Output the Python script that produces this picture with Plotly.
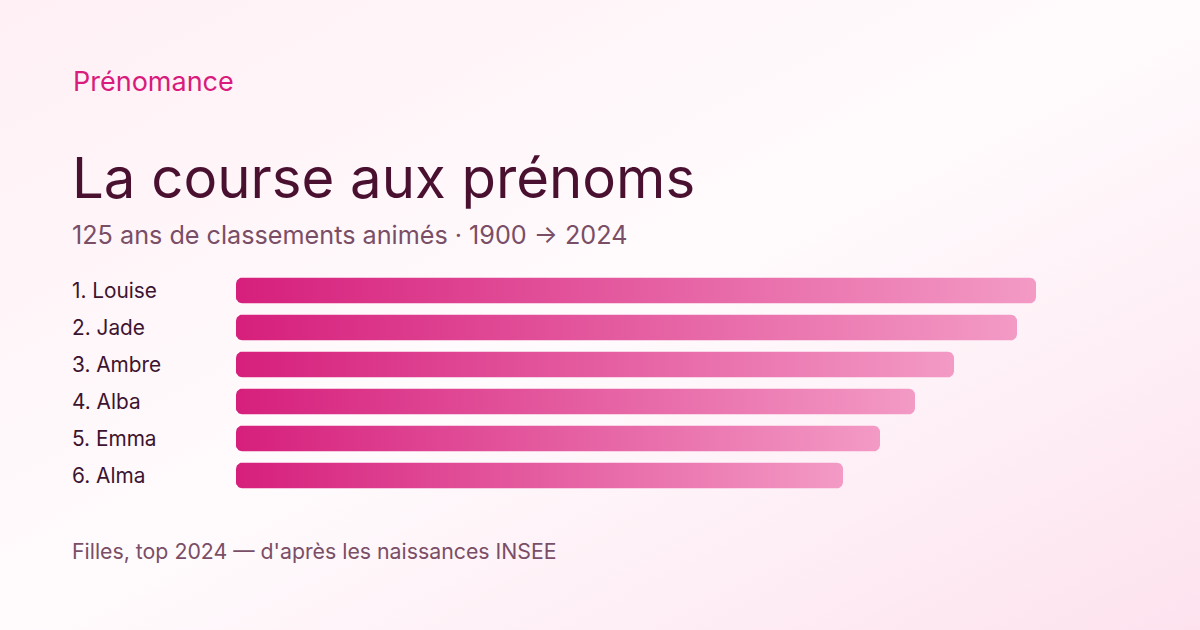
import base64
import numpy as np
import plotly.graph_objects as go

# ---- data ----
names = ["Louise", "Jade", "Ambre", "Alba", "Emma", "Alma"]
ranks = [1, 2, 3, 4, 5, 6]
births = [3200, 3124, 2872, 2716, 2576, 2428]

brand = "Prénomance"
title = "La course aux prénoms"
subtitle = "125 ans de classements animés · 1900 → 2024"
footer = "Filles, top 2024 — d'après les naissances INSEE"

W, H = 1200, 630
FONT = "Inter, Roboto, sans-serif"

# ---- layout geometry (pixels) ----
x_left_px, x_right_px = 236, 1100
x_max = max(births) * (x_right_px - x_left_px) / (1036 - x_left_px)
slot_top, slot = 272, 37
y_top_px = slot_top
y_bot_px = slot_top + slot * len(names)
half_h = 12.75 / slot
r_px = 6
rx = r_px * x_max / (x_right_px - x_left_px)
ry = r_px / slot


def rounded_rect(x0, x1, yc):
    y0, y1 = yc - half_h, yc + half_h
    pts_x, pts_y = [], []
    corners = [
        (x1 - rx, y0 + ry, -np.pi / 2, 0),
        (x1 - rx, y1 - ry, 0, np.pi / 2),
        (x0 + rx, y1 - ry, np.pi / 2, np.pi),
        (x0 + rx, y0 + ry, np.pi, 1.5 * np.pi),
    ]
    for cx, cy, a0, a1 in corners:
        t = np.linspace(a0, a1, 10)
        pts_x.extend(cx + rx * np.cos(t))
        pts_y.extend(cy + ry * np.sin(t))
    pts_x.append(pts_x[0])
    pts_y.append(pts_y[0])
    return pts_x, pts_y


fig = go.Figure()
for i, (n, v) in enumerate(zip(names, births)):
    px_, py_ = rounded_rect(0, v, i)
    fig.add_trace(go.Scatter(
        x=px_, y=py_, mode="lines", fill="toself",
        line=dict(width=0, color="rgba(0,0,0,0)"),
        fillgradient=dict(type="horizontal",
                          colorscale=[[0, "#d61f7c"], [1, "#f39ac5"]]),
        hoveron="fills", name=n, text=f"{n}: {v}", hoverinfo="text",
        showlegend=False,
    ))

annotations = []


def py2paper(py):
    return 1 - py / H


annotations.append(dict(text=brand, x=71 / W, y=py2paper(82), xref="paper", yref="paper",
                        xanchor="left", yanchor="middle", showarrow=False,
                        font=dict(family=FONT, size=27, color="#d81b7c")))
annotations.append(dict(text=title, x=70 / W, y=py2paper(177), xref="paper", yref="paper",
                        xanchor="left", yanchor="middle", showarrow=False,
                        font=dict(family=FONT, size=56.3, color="#4a1030")))
annotations.append(dict(text=subtitle, x=70 / W, y=py2paper(235), xref="paper", yref="paper",
                        xanchor="left", yanchor="middle", showarrow=False,
                        font=dict(family=FONT, size=25.2, color="#7a4e66")))
annotations.append(dict(text=footer, x=70 / W, y=py2paper(551), xref="paper", yref="paper",
                        xanchor="left", yanchor="middle", showarrow=False,
                        font=dict(family=FONT, size=21.3, color="#7a4e66")))
for i, (r, n) in enumerate(zip(ranks, names)):
    annotations.append(dict(text=f"{r}. {n}", x=70 / W, y=i, xref="paper", yref="y",
                            xanchor="left", yanchor="middle", showarrow=False,
                            font=dict(family=FONT, size=20.8, color="#3d1430")))

svg = f"""<svg xmlns='http://www.w3.org/2000/svg' width='{W}' height='{H}' viewBox='0 0 {W} {H}' preserveAspectRatio='none'>
<defs><linearGradient id='g' x1='0' y1='0' x2='1' y2='1'>
<stop offset='0' stop-color='#fff0f5'/>
<stop offset='0.5' stop-color='#fffbfd'/>
<stop offset='1' stop-color='#fde2ee'/>
</linearGradient></defs>
<rect width='{W}' height='{H}' fill='url(#g)'/></svg>"""
bg_uri = "data:image/svg+xml;base64," + base64.b64encode(svg.encode()).decode()

fig.update_layout(
    width=W, height=H,
    margin=dict(l=0, r=0, t=0, b=0),
    paper_bgcolor="#fff8fb", plot_bgcolor="rgba(0,0,0,0)",
    images=[dict(source=bg_uri, xref="paper", yref="paper", x=0, y=1,
                 sizex=1, sizey=1, sizing="stretch", layer="below",
                 xanchor="left", yanchor="top")],
    xaxis=dict(domain=[x_left_px / W, x_right_px / W], range=[0, x_max],
               visible=False, fixedrange=True),
    yaxis=dict(domain=[py2paper(y_bot_px), py2paper(y_top_px)],
               range=[len(names) - 0.5, -0.5], visible=False, fixedrange=True),
    annotations=annotations,
    showlegend=False,
)

fig.write_html(
    "out.html",
    config={"displayModeBar": False},
    post_script="document.body.style.margin='0';document.body.style.overflow='hidden';",
)
